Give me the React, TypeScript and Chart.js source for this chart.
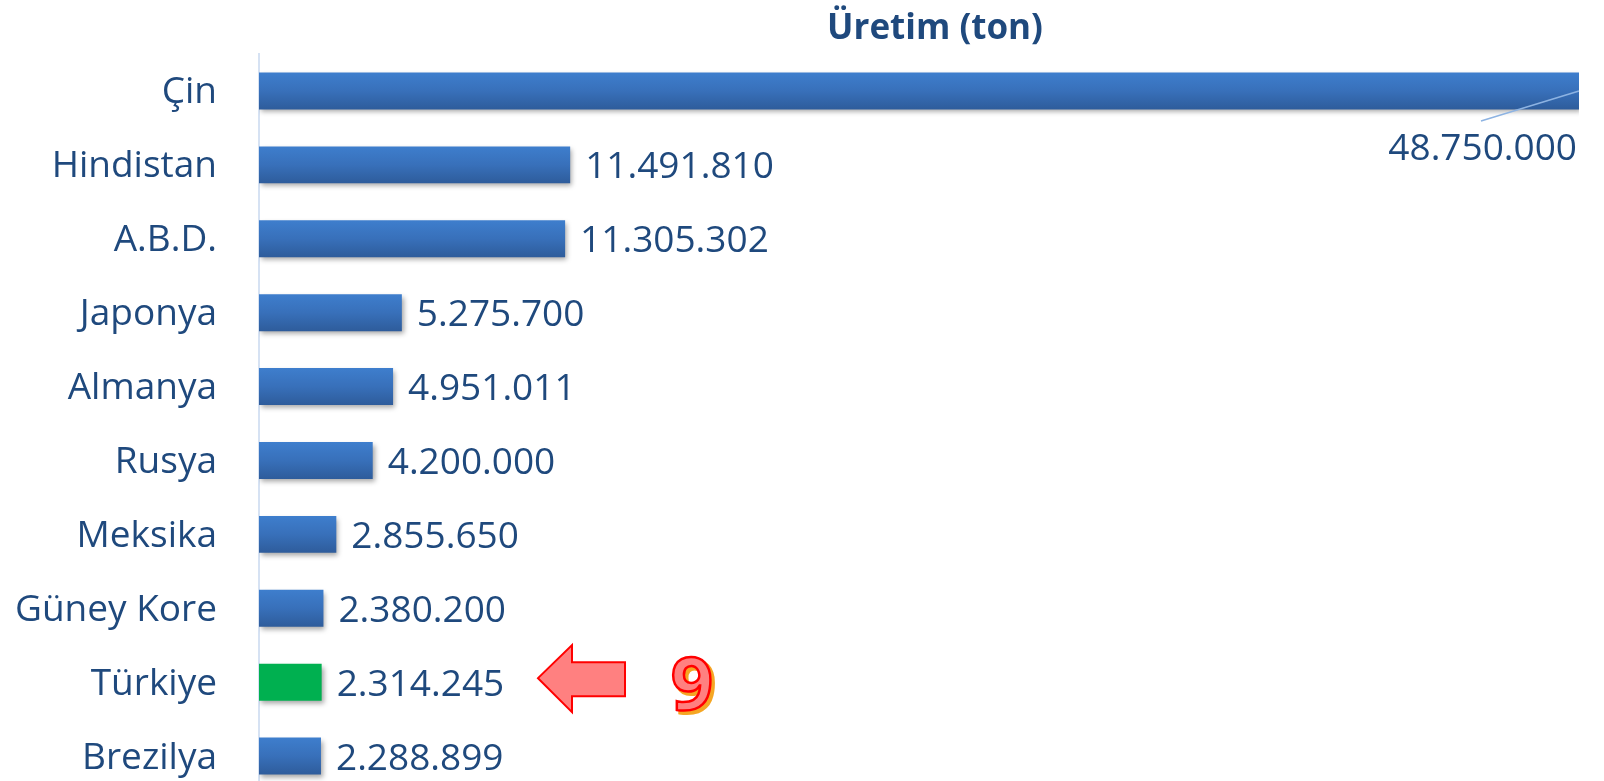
import React, { useEffect, useRef } from "react";
import { Chart, registerables } from "chart.js";

Chart.register(...registerables);

const categories = ["Çin", "Hindistan", "A.B.D.", "Japonya", "Almanya", "Rusya", "Meksika", "Güney Kore", "Türkiye", "Brezilya"];
const production = [48750000, 11491810, 11305302, 5275700, 4951011, 4200000, 2855650, 2380200, 2314245, 2288899];
const valueLabels = ["48.750.000", "11.491.810", "11.305.302", "5.275.700", "4.951.011", "4.200.000", "2.855.650", "2.380.200", "2.314.245", "2.288.899"];
const highlightCategory = "Türkiye";
const rankText = "9";
const titleText = "Üretim (ton)";

const TEXT_COLOR = "#1F497D";
const FONT = "'Open Sans', 'Liberation Sans', sans-serif";

export default function App() {
  const ref = useRef<HTMLCanvasElement | null>(null);

  useEffect(() => {
    const canvas = ref.current;
    if (!canvas) return;

    const shadowPlugin = {
      id: "barShadow",
      beforeDatasetsDraw(chart: any) {
        const ctx = chart.ctx;
        ctx.save();
        ctx.shadowColor = "rgba(0,0,0,0.35)";
        ctx.shadowBlur = 5;
        ctx.shadowOffsetX = 2;
        ctx.shadowOffsetY = 3;
      },
      afterDatasetsDraw(chart: any) {
        chart.ctx.restore();
      },
    };

    const overlayPlugin = {
      id: "overlay",
      afterDraw(chart: any) {
        const ctx = chart.ctx;
        const meta = chart.getDatasetMeta(0);
        ctx.save();
        ctx.font = `bold 35px ${FONT}`;
        ctx.fillStyle = TEXT_COLOR;
        ctx.textAlign = "center";
        ctx.textBaseline = "alphabetic";
        ctx.fillText(titleText, 935, 39);

        ctx.font = `37px ${FONT}`;
        meta.data.forEach((bar: any, i: number) => {
          if (i === 0) {
            ctx.textAlign = "right";
            ctx.textBaseline = "middle";
            ctx.fillText(valueLabels[i], bar.x - 2, bar.y + 59);
            ctx.strokeStyle = "#8DB3E2";
            ctx.lineWidth = 1.5;
            ctx.beginPath();
            ctx.moveTo(bar.x - 98, bar.y + 30);
            ctx.lineTo(bar.x, bar.y);
            ctx.stroke();
          } else {
            ctx.textAlign = "left";
            ctx.textBaseline = "middle";
            ctx.fillText(valueLabels[i], bar.x + 15, bar.y + 3);
          }
        });

        const hi = categories.indexOf(highlightCategory);
        const hb: any = meta.data[hi];
        if (hb) {
          const cy = hb.y - 4;
          const tipX = 538;
          ctx.beginPath();
          ctx.moveTo(tipX, cy);
          ctx.lineTo(tipX + 34, cy - 33);
          ctx.lineTo(tipX + 34, cy - 16);
          ctx.lineTo(tipX + 87, cy - 16);
          ctx.lineTo(tipX + 87, cy + 18);
          ctx.lineTo(tipX + 34, cy + 18);
          ctx.lineTo(tipX + 34, cy + 34);
          ctx.closePath();
          ctx.fillStyle = "#FF8080";
          ctx.fill();
          ctx.strokeStyle = "#FF0000";
          ctx.lineWidth = 2;
          ctx.lineJoin = "miter";
          ctx.stroke();

          ctx.font = `bold 74px ${FONT}`;
          ctx.textAlign = "center";
          ctx.textBaseline = "alphabetic";
          const nx = 692, ny = hb.y + 28;
          ctx.fillStyle = "#F5A623";
          ctx.fillText(rankText, nx + 3, ny + 3);
          ctx.lineWidth = 3;
          ctx.strokeStyle = "#F5A623";
          ctx.strokeText(rankText, nx + 3, ny + 3);
          ctx.fillStyle = "#FF8080";
          ctx.fillText(rankText, nx, ny);
          ctx.strokeStyle = "#FF0000";
          ctx.lineWidth = 2.5;
          ctx.strokeText(rankText, nx, ny);
        }
        ctx.restore();
      },
    };

    const chart = new Chart(canvas, {
      type: "bar",
      data: {
        labels: categories,
        datasets: [
          {
            data: production,
            backgroundColor: (c: any) => {
              const ch = c.chart;
              if (categories[c.dataIndex] === highlightCategory) return "#00B050";
              const ys = ch.scales && ch.scales.y;
              if (!ys || !ch.chartArea) return "#3A72BD";
              const y = ys.getPixelForValue(c.dataIndex);
              const g = ch.ctx.createLinearGradient(0, y - 18.5, 0, y + 18.5);
              g.addColorStop(0, "#3E7ECD");
              g.addColorStop(0.5, "#3870BA");
              g.addColorStop(1, "#2E5C9B");
              return g;
            },
            borderWidth: 0,
            barPercentage: 0.5,
            categoryPercentage: 1,
          },
        ],
      },
      options: {
        indexAxis: "y",
        responsive: true,
        maintainAspectRatio: false,
        animation: false,
        events: [],
        layout: { padding: { top: 54, right: 25, bottom: 7, left: 0 } },
        plugins: {
          legend: { display: false },
          title: { display: false },
          tooltip: { enabled: false },
        },
        scales: {
          x: {
            display: false,
            min: 0,
            max: 48750000,
          },
          y: {
            afterFit: (s: any) => {
              s.width = 259;
              s.paddingTop = 0;
              s.paddingBottom = 0;
            },
            grid: { display: false, drawTicks: false },
            border: { display: true, color: "#D6E2F3", width: 2 },
            ticks: {
              color: TEXT_COLOR,
              font: { family: FONT, size: 37 },
              padding: 42,
              labelOffset: 2,
            },
          },
        },
      },
      plugins: [shadowPlugin, overlayPlugin],
    } as any);

    return () => chart.destroy();
  }, []);

  return (
    <div style={{ position: "absolute", left: 0, top: 0, width: 1604, height: 781, overflow: "hidden", background: "#fff" }}>
      <div style={{ position: "relative", width: 1604, height: 800 }}>
        <canvas ref={ref} />
      </div>
    </div>
  );
}
